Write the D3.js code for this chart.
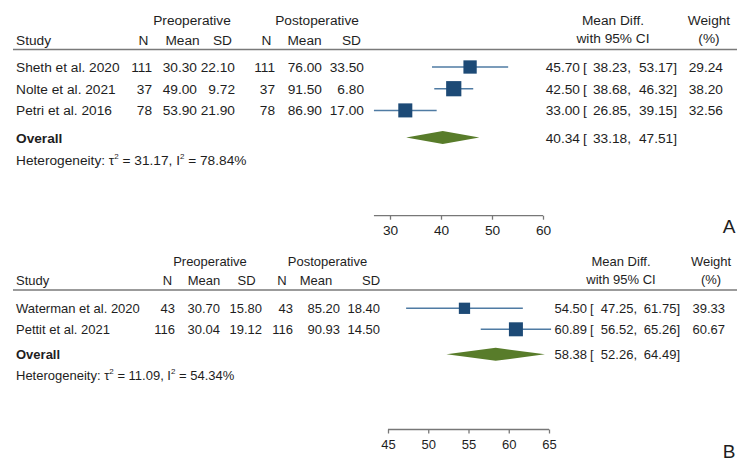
<!DOCTYPE html>
<html>
<head>
<meta charset="utf-8">
<script src="https://cdn.jsdelivr.net/npm/d3@7"></script>
<style>
  html, body { margin: 0; padding: 0; background: #fff; }
  svg text { font-family: "Liberation Sans", Arial, sans-serif; fill: #1e1e1e; }
</style>
</head>
<body>
<svg id="chart" width="750" height="475"></svg>
<script>
// ---------- DATA : panel A ----------
const studiesA   = ["Sheth et al. 2020", "Nolte et al. 2021", "Petri et al. 2016"];
const preNA      = [111, 37, 78];
const preMeanA   = [30.30, 49.00, 53.90];
const preSDA     = [22.10, 9.72, 21.90];
const postNA     = [111, 37, 78];
const postMeanA  = [76.00, 91.50, 86.90];
const postSDA    = [33.50, 6.80, 17.00];
const mdA        = [45.70, 42.50, 33.00];
const lowA       = [38.23, 38.68, 26.85];
const highA      = [53.17, 46.32, 39.15];
const weightA    = [29.24, 38.20, 32.56];
const overallA   = [40.34, 33.18, 47.51];
const tau2A = "31.17", i2A = "78.84";
const ticksA     = [30, 40, 50, 60];

// ---------- DATA : panel B ----------
const studiesB   = ["Waterman et al. 2020", "Pettit et al. 2021"];
const preNB      = [43, 116];
const preMeanB   = [30.70, 30.04];
const preSDB     = [15.80, 19.12];
const postNB     = [43, 116];
const postMeanB  = [85.20, 90.93];
const postSDB    = [18.40, 14.50];
const mdB        = [54.50, 60.89];
const lowB       = [47.25, 56.52];
const highB      = [61.75, 65.26];
const weightB    = [39.33, 60.67];
const overallB   = [58.38, 52.26, 64.49];
const tau2B = "11.09", i2B = "54.34";
const ticksB     = [45, 50, 55, 60, 65];

const svg = d3.select("#chart");
const f2 = d3.format(".2f");

function drawPanel(d, L) {
  const FS = L.fs;
  function txt(g, x, y, s, anchor, opts) {
    const t = g.append("text").attr("x", x).attr("y", y)
      .attr("font-size", (opts && opts.size) || FS)
      .attr("text-anchor", anchor || "start")
      .style("white-space", "pre")
      .text(s);
    if (opts && opts.bold) t.attr("font-weight", "bold");
    return t;
  }
  const g = svg.append("g");
  // header
  txt(g, L.preHdr, L.hdr1, "Preoperative", "middle");
  txt(g, L.postHdr, L.hdr1, "Postoperative", "middle");
  txt(g, L.md, L.hdr1, "Mean Diff.", "middle");
  txt(g, L.md, L.hdr2b, "with 95% CI", "middle");
  txt(g, L.wt, L.hdr1, "Weight", "middle");
  txt(g, L.wt, L.hdr2b, "(%)", "middle");
  txt(g, 16, L.hdr2, "Study", "start");
  L.colHdr.forEach((c, i) => txt(g, c, L.hdr2, ["N","Mean","SD","N","Mean","SD"][i], "middle"));
  g.append("line").attr("x1", 13).attr("x2", 737).attr("y1", L.line).attr("y2", L.line)
    .attr("stroke", "#7a7a7a").attr("stroke-width", 1.5);

  const x = d3.scaleLinear().domain([d.ticks[0], d.ticks[d.ticks.length - 1]]).range(L.xr);
  const size = d3.scaleSqrt().domain([0, d3.max(d.weight)]).range([0, L.maxSq]);
  const rowY = i => L.row0 + i * L.rowStep;

  d.studies.forEach((s, i) => {
    const y = rowY(i), b = y + 5;
    txt(g, 16, b, s);
    const vals = [d.preN[i], f2(d.preMean[i]), f2(d.preSD[i]), d.postN[i], f2(d.postMean[i]), f2(d.postSD[i])];
    vals.forEach((v, k) => txt(g, L.colEnd[k], b, String(v), "end"));
    g.append("line").attr("x1", x(d.low[i])).attr("x2", x(d.high[i])).attr("y1", y).attr("y2", y)
      .attr("stroke", "#4f7ba3").attr("stroke-width", 1.5);
    const sz = size(d.weight[i]);
    g.append("rect").attr("x", x(d.md[i]) - sz / 2).attr("y", y - sz / 2)
      .attr("width", sz).attr("height", sz).attr("fill", "#1d4a76");
    txt(g, L.est, b, f2(d.md[i]), "end");
    txt(g, L.est + 3, b, "[", "start");
    txt(g, L.lo, b, f2(d.low[i]) + ",", "end");
    txt(g, L.hi, b, f2(d.high[i]) + "]", "end");
    txt(g, L.wEnd, b, f2(d.weight[i]), "end");
  });

  // overall
  const oy = L.oy;
  txt(g, 16, oy + 5, "Overall", "start", {bold: true});
  const [m, lo, hi] = d.overall;
  g.append("path")
    .attr("d", `M${x(lo)},${oy} L${x(m)},${oy - 6.5} L${x(hi)},${oy} L${x(m)},${oy + 6.5} Z`)
    .attr("fill", "#587c2a");
  txt(g, L.est, oy + 5, f2(m), "end");
  txt(g, L.est + 3, oy + 5, "[", "start");
  txt(g, L.lo, oy + 5, f2(lo) + ",", "end");
  txt(g, L.hi, oy + 5, f2(hi) + "]", "end");

  // heterogeneity
  const ht = g.append("text").attr("x", 16).attr("y", L.het).attr("font-size", FS).style("white-space", "pre");
  ht.append("tspan").text("Heterogeneity: \u03c4");
  ht.append("tspan").attr("font-size", 8).attr("dy", -6).text("2");
  ht.append("tspan").attr("dy", 6).text(" = " + d.tau2 + ", I");
  ht.append("tspan").attr("font-size", 8).attr("dy", -6).text("2");
  ht.append("tspan").attr("dy", 6).text(" = " + d.i2 + "%");

  // axis
  const axis = d3.axisBottom(x).tickValues(d.ticks).tickSize(4).tickPadding(6).tickSizeOuter(0);
  const ag = g.append("g").attr("transform", `translate(0,${L.axisY})`).call(axis);
  ag.select(".domain").remove();
  ag.selectAll(".tick line").attr("stroke", "#777").attr("stroke-width", 1.3);
  ag.selectAll(".tick text").attr("font-size", FS).attr("font-family", "Liberation Sans, Arial, sans-serif").attr("fill", "#1e1e1e");
  const aMin = Math.min(d3.min(d.low), d.ticks[0]);
  ag.append("line").attr("x1", x(aMin)).attr("x2", x(d.ticks[d.ticks.length - 1]))
    .attr("y1", 0).attr("y2", 0).attr("stroke", "#777").attr("stroke-width", 1.3);

  txt(g, 729, L.labY, d.label, "middle", {size: 19});
}

drawPanel({
  studies: studiesA, preN: preNA, preMean: preMeanA, preSD: preSDA,
  postN: postNA, postMean: postMeanA, postSD: postSDA,
  md: mdA, low: lowA, high: highA, weight: weightA, overall: overallA,
  tau2: tau2A, i2: i2A, ticks: ticksA, label: "A"
}, {
  fs: 13.7,
  hdr1: 24.5, hdr2: 44.5, hdr2b: 43, line: 49.5,
  preHdr: 192, postHdr: 317,
  colHdr: [143.5, 182.5, 222.5, 266.5, 304.5, 351.5],
  colEnd: [152, 197, 235, 275, 322, 364],
  md: 613, wt: 709,
  xr: [390, 543], maxSq: 15.2,
  row0: 67, rowStep: 21.7, oy: 137.5, het: 165,
  est: 580, lo: 631, hi: 677, wEnd: 723,
  axisY: 215.7, labY: 233
});

drawPanel({
  studies: studiesB, preN: preNB, preMean: preMeanB, preSD: preSDB,
  postN: postNB, postMean: postMeanB, postSD: postSDB,
  md: mdB, low: lowB, high: highB, weight: weightB, overall: overallB,
  tau2: tau2B, i2: i2B, ticks: ticksB, label: "B"
}, {
  fs: 13.0,
  hdr1: 266, hdr2: 285, hdr2b: 284, line: 290,
  preHdr: 210, postHdr: 327.5,
  colHdr: [167.5, 204, 246.5, 282, 316, 371],
  colEnd: [175, 220, 262, 293, 340, 380],
  md: 621, wt: 711,
  xr: [388, 549], maxSq: 14,
  row0: 308.3, rowStep: 21, oy: 354.3, het: 380,
  est: 587, lo: 637, hi: 680, wEnd: 725,
  axisY: 429.5, labY: 458
});
</script>
</body>
</html>
